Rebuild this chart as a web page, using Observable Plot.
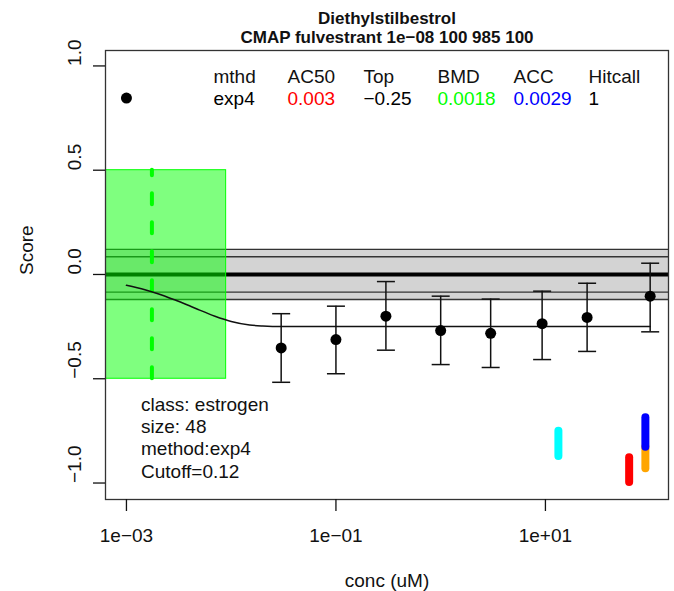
<!DOCTYPE html>
<html><head><meta charset="utf-8">
<script src="https://cdn.jsdelivr.net/npm/d3@7"></script>
<script src="https://cdn.jsdelivr.net/npm/@observablehq/plot@0.6"></script>
<style>html,body{margin:0;padding:0;background:#fff;} #chart svg{display:block}</style>
</head><body><div id="chart"></div>
<script>
// ---- data ----
const titleLines = ["Diethylstilbestrol", "CMAP fulvestrant 1e\u221208 100 985 100"];
const conc   = [0.001, 0.03, 0.1, 0.3, 1, 3, 9.3, 25, 100];
const score  = [0.846, -0.352, -0.312, -0.2, -0.269, -0.282, -0.236, -0.206, -0.104];
const errHi  = [null, -0.188, -0.152, -0.034, -0.104, -0.118, -0.08, -0.042, 0.054];
const errLo  = [null, -0.517, -0.476, -0.363, -0.432, -0.446, -0.408, -0.369, -0.275];
const fitConc  = [0.001, 0.0015, 0.002, 0.003, 0.004, 0.005, 0.007, 0.01, 0.015, 0.02, 0.03, 0.1, 1, 100];
const fitScore = [-0.052, -0.073, -0.092, -0.125, -0.15, -0.171, -0.2, -0.225, -0.242, -0.247, -0.25, -0.25, -0.25, -0.25];
const cutoff = 0.12;
const innerBand = 0.085;
const bmd = 0.00175;
const bmdl = 0.0004;
const bmdu = 0.00895;
const bmdBoxLo = -0.5, bmdBoxHi = 0.5;
const flagConc  = [13.3, 63, 90, 90];
const flagLo    = [-0.873, -0.998, -0.932, -0.828];
const flagHi    = [-0.7515, -0.879, -0.828, -0.687];
const flagColor = ["#00FFFF", "#FF0000", "#FFA500", "#0000FF"];
const legendHeader = ["mthd", "AC50", "Top", "BMD", "ACC", "Hitcall"];
const legendValue  = ["exp4", "0.003", "\u22120.25", "0.0018", "0.0029", "1"];
const legendColor  = ["black", "#FF0000", "black", "#00FF00", "#0000FF", "black"];
const infoLines = ["class: estrogen", "size: 48", "method:exp4", "Cutoff=0.12"];
const xTicks = [0.001, 0.1, 10];
const xTickLabels = ["1e\u221203", "1e\u221201", "1e+01"];
const yTicks = [-1, -0.5, 0, 0.5, 1];
const yTickLabels = ["\u22121.0", "\u22120.5", "0.0", "0.5", "1.0"];
const xLabel = "conc (uM)";
const yLabel = "Score";

// ---- layout ----
const W = 674, H = 591;
const mL = 105, mR = 6, mT = 50, mB = 92;
const legendX = [213, 287, 363, 437, 513, 588];
const infoBase = [410, 432.3, 454.6, 477];
const FS = 19;

const pts = conc.map((c, i) => ({conc: c, score: score[i], lo: errLo[i], hi: errHi[i]}));
const errs = pts.filter(d => d.lo != null);
const fit = fitConc.map((c, i) => ({conc: c, score: fitScore[i]}));
const flags = flagConc.map((c, i) => ({conc: c, lo: flagLo[i], hi: flagHi[i], color: flagColor[i]}));
const cap = {draw(ctx, size) { const r = Math.sqrt(size / Math.PI); ctx.moveTo(-r, 0); ctx.lineTo(r, 0); }};

const txt = (s, o) => Plot.text([s], {text: d => d, fontSize: FS, lineAnchor: "bottom", ...o});

const marks = [
  // cutoff band
  Plot.rect([0], {y1: -cutoff, y2: cutoff, fill: "#D3D3D3"}),
  Plot.ruleY([-cutoff, cutoff, -innerBand, innerBand], {stroke: "#333", strokeWidth: 1.3}),
  Plot.ruleY([0], {stroke: "black", strokeWidth: 4}),
  // BMD box
  Plot.rect([0], {x1: bmdl, x2: bmdu, y1: bmdBoxLo, y2: bmdBoxHi, fill: "rgba(0,255,0,0.5)", stroke: "#00FF00", strokeWidth: 1, clip: true}),
  Plot.ruleX([bmd], {y1: bmdBoxLo, y2: bmdBoxHi, stroke: "#00FF00", strokeWidth: 4, strokeDasharray: "11,18", strokeLinecap: "round"}),
  // fit curve
  Plot.line(fit, {x: "conc", y: "score", stroke: "#111", strokeWidth: 1.5, curve: "monotone-x"}),
  // error bars
  Plot.ruleX(errs, {x: "conc", y1: "lo", y2: "hi", stroke: "#111", strokeWidth: 1.5}),
  Plot.dot(errs, {x: "conc", y: "hi", symbol: cap, r: 9, fill: "none", stroke: "#111", strokeWidth: 1.5}),
  Plot.dot(errs, {x: "conc", y: "lo", symbol: cap, r: 9, fill: "none", stroke: "#111", strokeWidth: 1.5}),
  // points
  Plot.dot(pts, {x: "conc", y: "score", r: 5.5, fill: "black", stroke: "none"}),
  // flag bars
  Plot.ruleX(flags, {x: "conc", y1: "lo", y2: "hi", stroke: "color", strokeWidth: 8, strokeLinecap: "round"}),
  // frame and axes
  Plot.frame({stroke: "#333", strokeWidth: 1.3}),
  Plot.axisX({ticks: xTicks, tickSize: 12, tickFormat: () => "", label: null, strokeWidth: 1.3}),
  Plot.axisY({ticks: yTicks, tickSize: 12, tickFormat: () => "", label: null, strokeWidth: 1.3}),
  Plot.text(xTicks, {x: d => d, text: (d, i) => xTickLabels[i], frameAnchor: "bottom", dy: 42, fontSize: FS, lineAnchor: "bottom"}),
  Plot.text(yTicks, {y: d => d, text: (d, i) => yTickLabels[i], frameAnchor: "left", dx: -25, rotate: -90, fontSize: FS, lineAnchor: "bottom"}),
  txt(xLabel, {frameAnchor: "bottom", dy: 87}),
  txt(yLabel, {frameAnchor: "left", dx: 32 - mL, rotate: -90}),
  txt(titleLines[0], {frameAnchor: "top", dy: 23 - mT, fontSize: 17, fontWeight: "bold"}),
  txt(titleLines[1], {frameAnchor: "top", dy: 42 - mT, fontSize: 17, fontWeight: "bold"}),
  ...legendHeader.map((s, i) => txt(s, {frameAnchor: "top-left", textAnchor: "start", dx: legendX[i] - mL, dy: 82 - mT})),
  ...legendValue.map((s, i) => txt(s, {frameAnchor: "top-left", textAnchor: "start", dx: legendX[i] - mL, dy: 104 - mT, fill: legendColor[i]})),
  ...infoLines.map((s, i) => txt(s, {frameAnchor: "top-left", textAnchor: "start", dx: 140.5 - mL, dy: infoBase[i] - mT}))
];

const chart = Plot.plot({
  width: W, height: H,
  marginLeft: mL, marginRight: mR, marginTop: mT, marginBottom: mB,
  x: {type: "log", domain: [Math.pow(10, -3.2), Math.pow(10, 2.175)]},
  y: {domain: [-1.079, 1.074]},
  color: {type: "identity"},
  style: {fontFamily: "'Liberation Sans', Arial, Helvetica, sans-serif", fontSize: FS + "px", color: "#111", background: "white"},
  marks
});
document.getElementById("chart").appendChild(chart);
</script>
</body></html>
